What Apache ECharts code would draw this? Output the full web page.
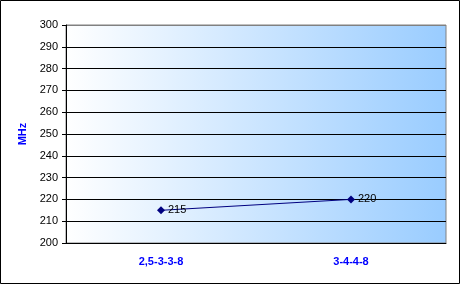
<!DOCTYPE html>
<html><head><meta charset="utf-8">
<script src="https://cdn.jsdelivr.net/npm/echarts@6/dist/echarts.min.js"></script>
<style>html,body{margin:0;padding:0;background:#fff}#c{width:461px;height:285px}</style>
</head><body><div id="c"></div>
<script>
var categories = ['2,5-3-3-8', '3-4-4-8'];
var values = [215, 220];
var yMin = 200, yMax = 300, yStep = 10;
var yName = 'MHz';

var chart = echarts.init(document.getElementById('c'), null, {renderer: 'canvas'});
var splitColors = [];
for (var v = yMin; v <= yMax; v += yStep) splitColors.push(v === yMax ? '#808080' : '#000000');
chart.setOption({
  animation: false,
  backgroundColor: '#ffffff',
  textStyle: {fontFamily: 'Arial, "Liberation Sans", sans-serif'},
  graphic: [{type: 'rect', shape: {x: 0.5, y: 0.5, width: 459, height: 283}, style: {fill: null, stroke: '#000', lineWidth: 1}, z: 100}],
  grid: {
    left: 66, right: 15, top: 25, bottom: 42, show: true,
    borderColor: '#808080', borderWidth: 1,
    backgroundColor: {type: 'linear', x: 0, y: 0, x2: 1, y2: 0,
      colorStops: [{offset: 0, color: '#ffffff'}, {offset: 1, color: '#99CCFF'}]}
  },
  xAxis: {
    type: 'category', data: categories, boundaryGap: true,
    axisLine: {lineStyle: {color: '#000', width: 1}},
    axisTick: {show: false},
    axisLabel: {color: '#0000FF', fontWeight: 'bold', fontSize: 11, margin: 13}
  },
  yAxis: {
    type: 'value', min: yMin, max: yMax, interval: yStep,
    name: yName, nameLocation: 'middle', nameGap: 34,
    nameTextStyle: {color: '#0000FF', fontWeight: 'bold', fontSize: 11},
    axisLine: {show: true, lineStyle: {color: '#000', width: 1}},
    axisTick: {show: true, length: 4, lineStyle: {color: '#000'}},
    axisLabel: {color: '#000', fontSize: 11, margin: 8},
    splitLine: {show: true, lineStyle: {color: splitColors, width: 1}}
  },
  series: [{
    type: 'line', data: values,
    symbol: 'diamond', symbolSize: 8,
    lineStyle: {color: '#000080', width: 1},
    itemStyle: {color: '#000080'},
    label: {show: true, position: 'right', distance: 3, color: '#000', fontSize: 11}
  }]
});
</script></body></html>
